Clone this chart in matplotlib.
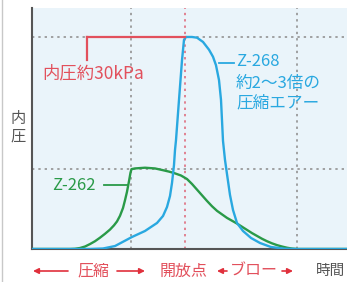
import matplotlib.pyplot as plt
from matplotlib.patches import FancyArrowPatch

plt.rcParams['font.family'] = ['Noto Sans CJK JP', 'DejaVu Sans']

# time (arbitrary units) vs internal pressure (kPa)
t_268 = [0, 5.8, 7.1, 8.3, 10.0, 11.3, 12.5, 13.1, 13.5, 13.8, 14.0, 14.2, 14.3, 14.4,
         14.7, 15.0, 15.2, 15.4, 16.0, 16.5, 17.1, 17.7, 18.1, 18.4, 18.7, 18.9, 19.1,
         19.3, 19.5, 19.8, 20.1, 20.5, 21.1, 21.9, 22.8, 23.9, 25.3, 26.5, 31.5]
p_268 = [0, 0, 0.07, 0.42, 1.70, 2.55, 3.68, 4.67, 5.94, 7.50, 9.34, 11.9, 14.0, 15.4,
         21.1, 26.7, 29.6, 30.0, 30.0, 29.9, 29.3, 28.2, 27.2, 26.0, 23.9, 21.1, 15.3,
         12.6, 10.6, 7.64, 5.52, 3.68, 2.55, 1.56, 0.85, 0.28, 0.04, 0, 0]

t_262 = [0, 3.8, 4.3, 4.8, 5.3, 5.8, 6.3, 6.8, 7.3, 7.8, 8.2, 8.5, 8.8, 9.1, 9.3, 9.5,
         9.7, 9.85, 9.95, 10.3, 11.3, 12.3, 13.1, 13.7, 14.2, 14.9, 15.5, 16.0, 16.5,
         17.0, 17.5, 18.0, 18.5, 19.0, 19.5, 20.0, 20.5, 21.0, 21.5, 22.0, 22.5, 23.0,
         23.5, 24.0, 24.5, 25.0, 25.5, 26.0, 26.5, 31.5]
p_262 = [0, 0, 0.03, 0.14, 0.35, 0.7, 1.1, 1.6, 2.15, 2.75, 3.35, 3.9, 4.7, 5.8, 6.9, 8.1,
         9.6, 10.8, 11.3, 11.4, 11.5, 11.4, 11.15, 10.95, 10.75, 10.4, 9.9, 9.2, 8.4,
         7.6, 6.8, 6.05, 5.4, 4.9, 4.4, 4.0, 3.6, 3.15, 2.7, 2.25, 1.85, 1.45,
         1.1, 0.8, 0.55, 0.35, 0.18, 0.06, 0, 0]

t_marks = [9.9, 15.3, 26.5]      # compression end, release point, blow end
p_marks = [30.0, 11.3]           # Z-268 peak, Z-262 plateau

blue = '#29a8e0'
green = '#2a9a48'
red = '#e2505c'
grid = '#9a9a9a'

W, H = 347, 282
fig = plt.figure(figsize=(W / 100, H / 100), dpi=100)

ax = fig.add_axes([32 / W, (H - 249) / H, 315 / W, 241 / H])
ax.set_facecolor('#eaf4fa')
ax.set_xlim(0, 31.5)
ax.set_ylim(0, 34.1)
ax.set_xticks([])
ax.set_yticks([])
for s in ['top', 'right']:
    ax.spines[s].set_visible(False)
for s in ['left', 'bottom']:
    ax.spines[s].set_color('#555555')
    ax.spines[s].set_linewidth(1.5)

dot = (0, (1.3, 2.2))
ax.axvline(t_marks[0], color=grid, lw=1.3, ls=dot, zorder=1)
ax.axvline(t_marks[1], color='#e07888', lw=1.3, ls=dot, zorder=1)
ax.axvline(t_marks[2], color=grid, lw=1.3, ls=dot, zorder=1)
for p in p_marks:
    ax.axhline(p, color=grid, lw=1.3, ls=dot, zorder=1)

ax.plot(t_262, p_262, color=green, lw=1.7, zorder=3, solid_capstyle='butt')
ax.plot(t_268, p_268, color=blue, lw=1.7, zorder=3, solid_capstyle='butt')

# red bracket for the 30kPa label
ax.plot([5.5, t_marks[1]], [30.0, 30.0], color=red, lw=1.6, zorder=4)
ax.plot([5.5, 5.5], [30.0, 26.7], color=red, lw=1.6, zorder=4)

# overlay in pixel coords for labels
ov = fig.add_axes([0, 0, 1, 1], zorder=5)
ov.set_xlim(0, W)
ov.set_ylim(H, 0)
ov.axis('off')
ov.patch.set_alpha(0)

ov.plot([2.5, 2.5], [0, H], color='#c8c8c8', lw=1)

ov.text(42, 73, '内圧約30kPa', color=red, fontsize=12.5, ha='left', va='center')

ov.plot([219, 234], [63, 63], color=blue, lw=1.3)
ov.text(236, 62, 'Z-268', color=blue, fontsize=12, ha='left', va='center')
ov.text(236, 83, '約2～3倍の', color=blue, fontsize=12, ha='left', va='center')
ov.text(236, 103, '圧縮エアー', color=blue, fontsize=12, ha='left', va='center')

ov.plot([104, 128], [185, 185], color=green, lw=1.3)
ov.text(52, 185, 'Z-262', color=green, fontsize=12, ha='left', va='center')

ov.text(18, 127, '内\n圧', color='#555555', fontsize=11, ha='center', va='center',
        linespacing=1.05)

ay = 271
arr_red = '#e0303c'
for x0, x1 in [(68, 33), (117, 145), (227, 217), (282, 293)]:
    ov.add_patch(FancyArrowPatch((x0, ay), (x1, ay), arrowstyle='-|>', mutation_scale=8,
                                 color=arr_red, lw=1.2, shrinkA=0, shrinkB=0))
ov.text(77, ay, '圧縮', color=red, fontsize=11.5, ha='left', va='center')
ov.text(160, ay, '開放点', color=red, fontsize=11.5, ha='left', va='center')
ov.text(230, ay, 'ブロー', color=red, fontsize=11.5, ha='left', va='center')
ov.text(316, ay, '時間', color='#555555', fontsize=10.5, ha='left', va='center')

fig.savefig('out.png', dpi=100)
